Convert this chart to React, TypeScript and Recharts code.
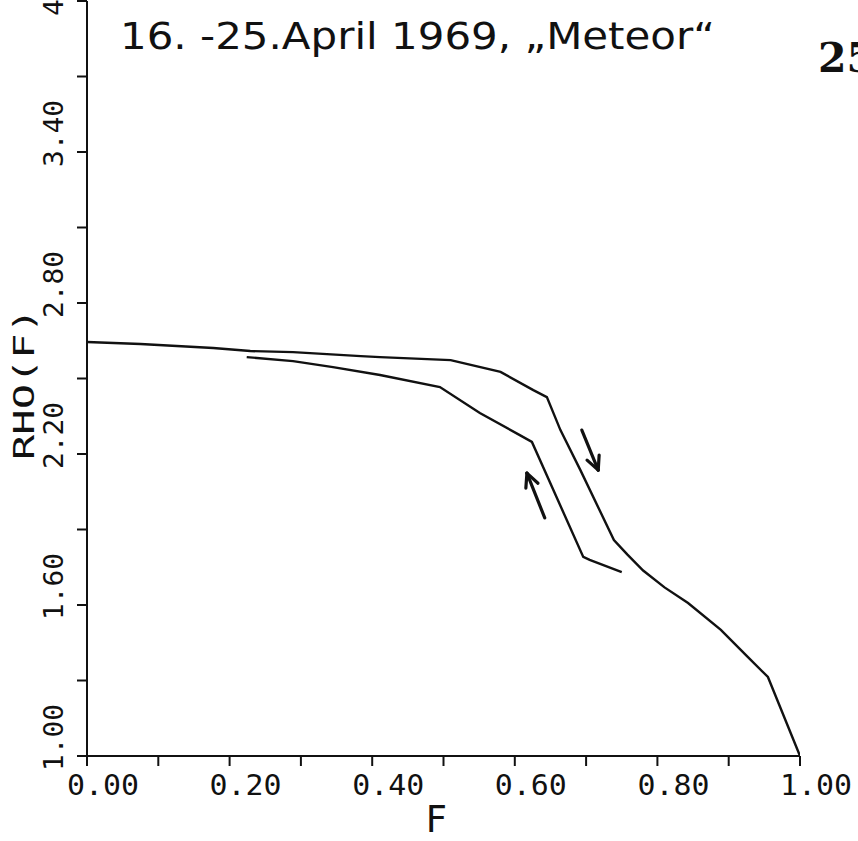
import React from "react";
import { LineChart, Line, XAxis, YAxis, ReferenceLine, Label } from "recharts";

// Upper branch (decreasing F direction arrow "down")
const upperF = [0, 0.075, 0.177, 0.229, 0.289, 0.384, 0.411, 0.51, 0.58, 0.626, 0.645, 0.664, 0.692, 0.739, 0.758, 0.78, 0.81, 0.843, 0.889, 0.927, 0.955, 1.0];
const upperRho = [2.645, 2.637, 2.621, 2.609, 2.605, 2.589, 2.585, 2.573, 2.526, 2.454, 2.426, 2.295, 2.136, 1.858, 1.8, 1.737, 1.67, 1.608, 1.501, 1.393, 1.314, 1.0];

// Lower branch (arrow "up")
const lowerF = [0.224, 0.289, 0.345, 0.411, 0.495, 0.551, 0.607, 0.624, 0.696, 0.705, 0.75];
const lowerRho = [2.585, 2.569, 2.545, 2.514, 2.466, 2.363, 2.275, 2.248, 1.791, 1.779, 1.731];

// Arrows: [fromF, fromRho, toF, toRho]
const downArrow = [0.694, 2.295, 0.717, 2.136];
const upArrow = [0.642, 1.946, 0.617, 2.124];

const xTicks = [0, 0.1, 0.2, 0.3, 0.4, 0.5, 0.6, 0.7, 0.8, 0.9, 1.0];
const xTickLabels: Record<string, string> = { "0": "0.00", "0.2": "0.20", "0.4": "0.40", "0.6": "0.60", "0.8": "0.80", "1": "1.00" };
const yTicks = [1.0, 1.3, 1.6, 1.9, 2.2, 2.5, 2.8, 3.1, 3.4, 3.7, 4.0];
const yTickLabels: Record<string, string> = { "1": "1.00", "1.6": "1.60", "2.2": "2.20", "2.8": "2.80", "3.4": "3.40", "4": "4.00" };

const title = "16. -25.April 1969, \u201EMeteor\u201C";
const cornerText = "25";
const xLabel = "F";
const yLabel = "RHO(F)";

const upperData = upperF.map((f, i) => ({ f, rho: upperRho[i] }));
const lowerData = lowerF.map((f, i) => ({ f, rho: lowerRho[i] }));

const INK = "#111";
const plotFont = "'DejaVu Sans Mono', monospace";

const XTick = (props: any) => {
  const { x, y, payload } = props;
  const key = String(Math.round(payload.value * 10) / 10);
  const lab = xTickLabels[key];
  if (!lab) return null;
  return (
    <text x={x + 16} y={y + 29} textAnchor="middle" fontFamily={plotFont} fontSize={29} fill={INK} textLength={72} lengthAdjust="spacingAndGlyphs">
      {lab}
    </text>
  );
};

const YTick = (props: any) => {
  const { y, payload } = props;
  const key = String(Math.round(payload.value * 10) / 10);
  const lab = yTickLabels[key];
  if (!lab) return null;
  const bx = 63;
  const by = y + 15;
  return (
    <text x={bx} y={by} transform={`rotate(-90 ${bx} ${by})`} textAnchor="start" fontFamily={plotFont} fontSize={27} fill={INK} textLength={67} lengthAdjust="spacingAndGlyphs">
      {lab}
    </text>
  );
};

const arrowShape = (props: any) => {
  const { x1, y1, x2, y2 } = props;
  if ([x1, y1, x2, y2].some((v) => typeof v !== "number" || isNaN(v))) return <g />;
  const ang = Math.atan2(y2 - y1, x2 - x1);
  const L = 15;
  const a1 = ang + Math.PI - 0.45;
  const a2 = ang + Math.PI + 0.45;
  return (
    <g stroke={INK} strokeWidth={3.2} strokeLinecap="round" fill="none">
      <line x1={x1} y1={y1} x2={x2} y2={y2} />
      <line x1={x2} y1={y2} x2={x2 + L * Math.cos(a1)} y2={y2 + L * Math.sin(a1)} />
      <line x1={x2} y1={y2} x2={x2 + L * Math.cos(a2)} y2={y2 + L * Math.sin(a2)} />
    </g>
  );
};

const XLabelContent = (props: any) => {
  const vb = props.viewBox || { x: 87, y: 756, width: 713, height: 85 };
  return (
    <text x={vb.x + vb.width * 0.49} y={832} textAnchor="middle" fontFamily="'DejaVu Sans', sans-serif" fontSize={37} fill={INK}>
      {xLabel}
    </text>
  );
};

const YLabelContent = () => {
  const cx = 34;
  const cy = 384;
  return (
    <text x={cx} y={cy} transform={`rotate(-90 ${cx} ${cy})`} textAnchor="middle" fontFamily={plotFont} fontSize={28} fill={INK} textLength={152} lengthAdjust="spacingAndGlyphs">
      {yLabel}
    </text>
  );
};

export default function App() {
  return (
    <div style={{ position: "absolute", left: 0, top: 0, width: 858, height: 841, background: "#fff" }}>
      <LineChart width={858} height={841} margin={{ top: 1, right: 58, bottom: 0, left: 0 }}>
        <XAxis
          type="number"
          dataKey="f"
          domain={[0, 1]}
          ticks={xTicks}
          interval={0}
          height={85}
          tickSize={10}
          tickMargin={0}
          axisLine={{ stroke: INK, strokeWidth: 2 }}
          tickLine={{ stroke: INK, strokeWidth: 2 }}
          tick={<XTick />}
          allowDataOverflow
        >
          <Label content={<XLabelContent />} />
        </XAxis>
        <YAxis
          type="number"
          dataKey="rho"
          domain={[1, 4]}
          ticks={yTicks}
          interval={0}
          width={87}
          tickSize={10}
          tickMargin={0}
          axisLine={{ stroke: INK, strokeWidth: 2 }}
          tickLine={{ stroke: INK, strokeWidth: 2 }}
          tick={<YTick />}
          allowDataOverflow
        >
          <Label content={<YLabelContent />} />
        </YAxis>
        <Line data={upperData} dataKey="rho" type="linear" stroke={INK} strokeWidth={2.4} dot={false} isAnimationActive={false} />
        <Line data={lowerData} dataKey="rho" type="linear" stroke={INK} strokeWidth={2.4} dot={false} isAnimationActive={false} />
        <ReferenceLine
          segment={[{ x: downArrow[0], y: downArrow[1] }, { x: downArrow[2], y: downArrow[3] }]}
          shape={arrowShape}
          ifOverflow="visible"
        />
        <ReferenceLine
          segment={[{ x: upArrow[0], y: upArrow[1] }, { x: upArrow[2], y: upArrow[3] }]}
          shape={arrowShape}
          ifOverflow="visible"
        />
      </LineChart>
      <svg width={858} height={841} style={{ position: "absolute", left: 0, top: 0, pointerEvents: "none" }}>
        <text x={120} y={49} fontFamily="'DejaVu Sans', sans-serif" fontSize={38} fill={INK} textLength={595} lengthAdjust="spacingAndGlyphs">
          {title}
        </text>
        <text x={818} y={72} fontFamily="'DejaVu Serif', serif" fontWeight="bold" fontSize={41} fill={INK}>
          {cornerText}
        </text>
      </svg>
    </div>
  );
}
